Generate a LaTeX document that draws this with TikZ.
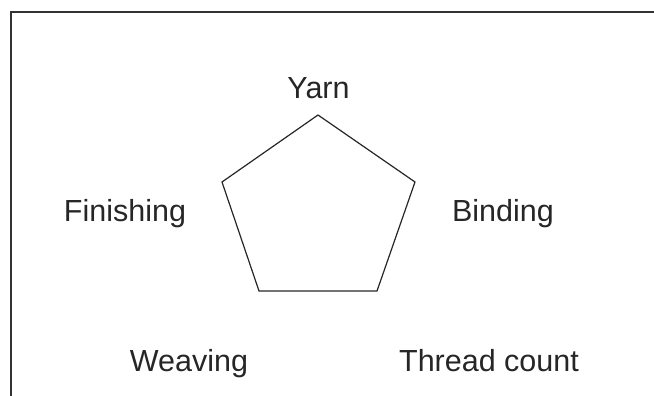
\documentclass[tikz,border=0pt]{standalone}
\usepackage{fontspec}
\setmainfont{Liberation Sans}
\usepackage{tikz}
\usetikzlibrary{
	calc,
	positioning
}

\tikzset{
	label text/.style={anchor=base, inner sep=0pt, text=black!85,
		font=\fontsize{30.5}{36}\selectfont},
	frame line/.style={line width=1.3pt, black!80},
	pent line/.style={line width=1.2pt, black!85, line join=miter}
}

\begin{document}
\begin{tikzpicture}[x=1pt, y=1pt]
		\useasboundingbox (0,0) rectangle (654,396);
		% frame (cut off at right and bottom)
		\draw[frame line] (11,0) -- (11,384) -- (654,384);
		% pentagon corners
		\coordinate (top) at (318,281);
		\coordinate (ur) at (415,214);
		\coordinate (lr) at (377,105);
		\coordinate (ll) at (259,105);
		\coordinate (ul) at (222,214);
		\draw[pent line] (top) -- (ur) -- (lr) -- (ll) -- (ul) -- cycle;
		% labels
		\node[label text] (yarn) at (318.5,297) {Yarn};
		\node[label text] (binding) at (503,174) {Binding};
		\node[label text] (finishing) at (125,174) {Finishing};
		\node[label text] (weaving) at (189,24) {Weaving};
		\node[label text] (threadcount) at (489,24) {Thread count};
	\end{tikzpicture}
\end{document}
